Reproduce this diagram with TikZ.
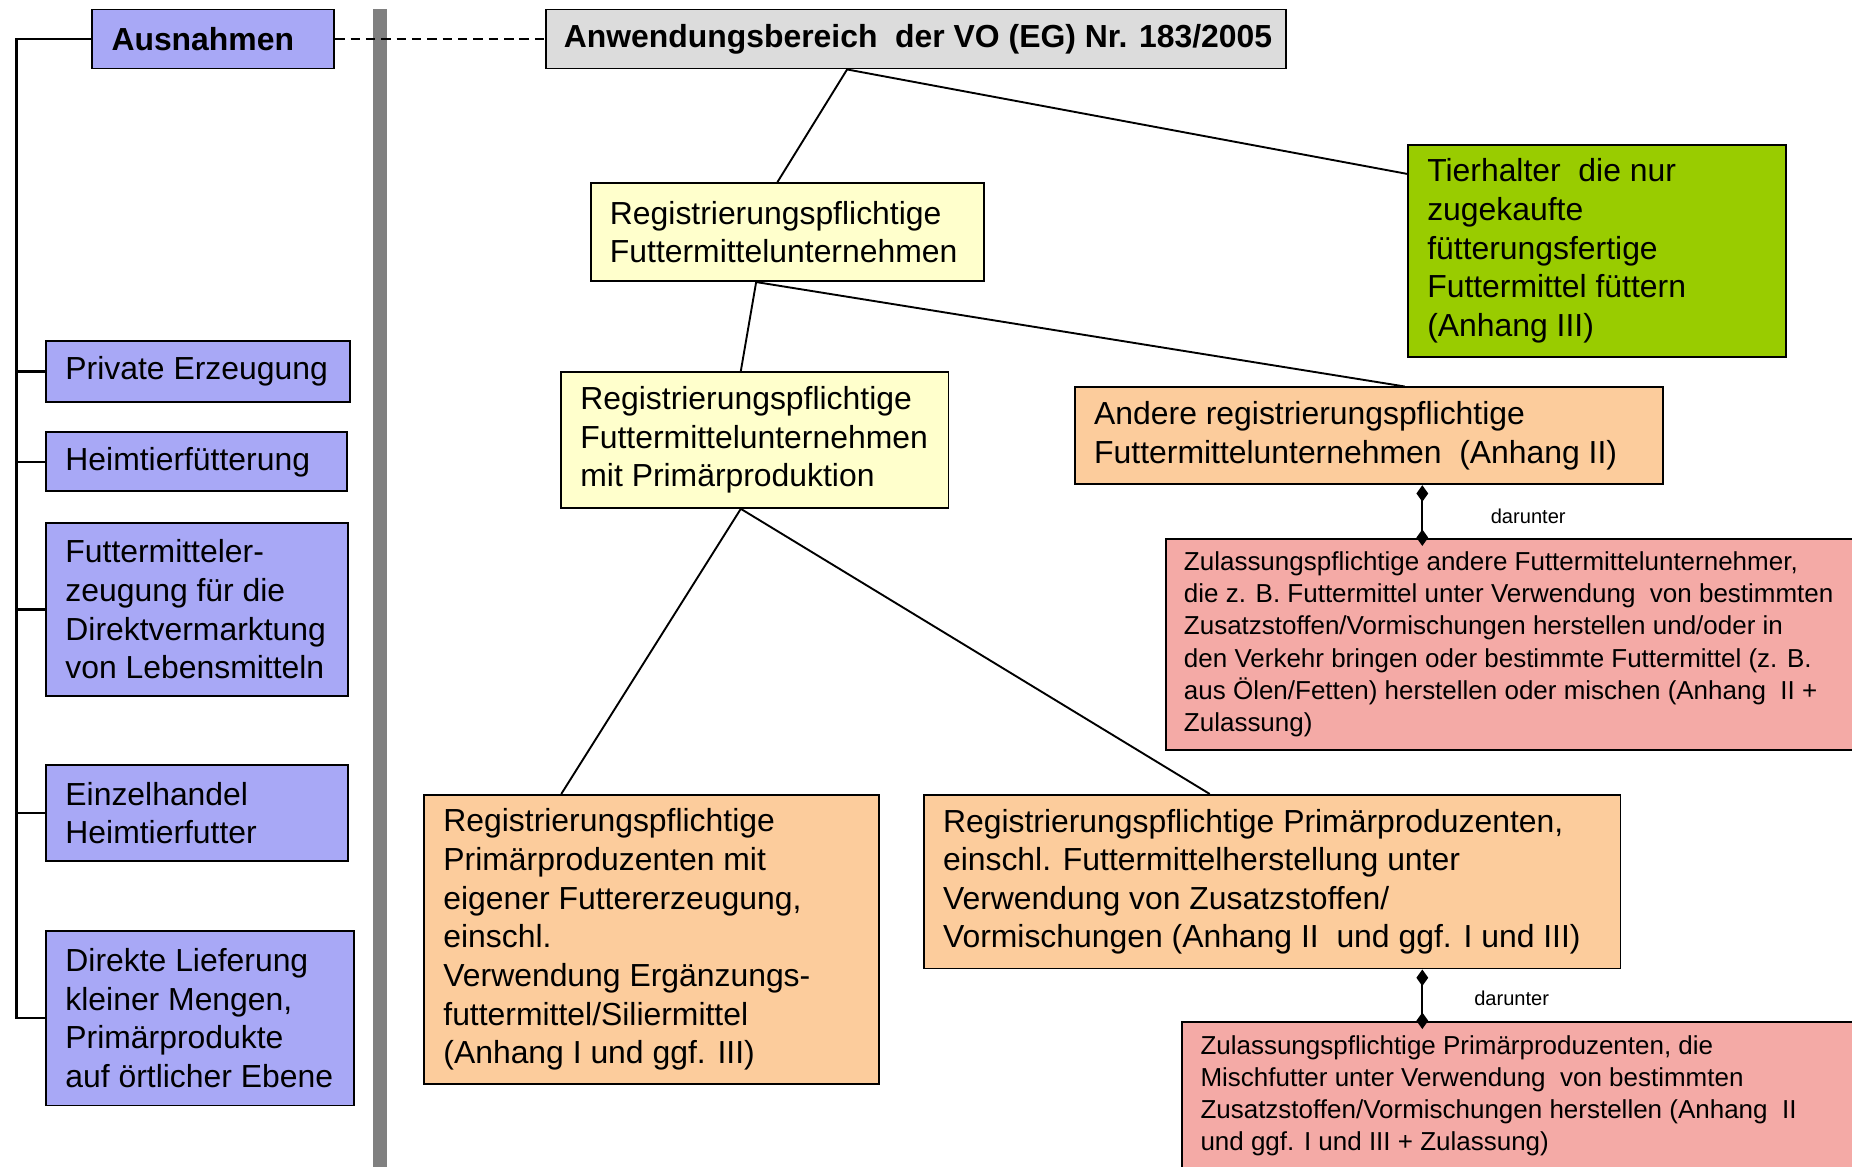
\documentclass[tikz,border=0pt]{standalone}
\usepackage{fontspec}
\setmainfont{Liberation Sans}
\usetikzlibrary{arrows.meta,fit,calc}
\definecolor{lav}{HTML}{A8A8F6}
\definecolor{ttl}{HTML}{DCDCDC}
\definecolor{yel}{HTML}{FFFFCC}
\definecolor{grn}{HTML}{99CC00}
\definecolor{org}{HTML}{FCCC9C}
\definecolor{pnk}{HTML}{F4AAA6}
\definecolor{bar}{HTML}{808080}
\begin{document}
\begin{tikzpicture}[x=1pt,y=-1pt,
  box/.style={draw=black,line width=1.6pt,inner sep=0pt},
  txt/.style={anchor=west,align=left,inner sep=0pt,font=\fontsize{27}{32.7}\selectfont},
  btxt/.style={anchor=west,align=left,inner sep=0pt,font=\fontsize{27}{32.7}\selectfont\bfseries},
  stxt/.style={anchor=west,align=left,inner sep=0pt,font=\fontsize{22}{27.2}\selectfont},
  lbl/.style={anchor=west,inner sep=0pt,font=\fontsize{17}{20}\selectfont},
  conn/.style={line width=1.6pt,draw=black},
  dconn/.style={line width=1.6pt,draw=black,{Diamond[length=14pt,width=10pt]}-{Diamond[length=14pt,width=10pt]},shorten >=-7pt},
]
\useasboundingbox (0,0) rectangle (1568,988);
\clip (0,0) rectangle (1568,988);

% gray separator bar
\fill[bar] (316,8) rectangle (328,995);

% left column
\node[box,fill=lav,fit={(78,8)(283,58)}] (aus) {};
\node[btxt] (aus-t) at ([xshift=17pt]aus.west) {Ausnahmen};
\node[box,fill=lav,fit={(39,289)(296,340)}] (pe) {};
\node[txt] (pe-t) at ([xshift=17pt]pe.west) {Private Erzeugung};
\node[box,fill=lav,fit={(39,366)(294,416)}] (ht) {};
\node[txt] (ht-t) at ([xshift=17pt]ht.west) {Heimtierfütterung};
\node[box,fill=lav,fit={(39,443)(295,589)}] (fe) {};
\node[txt] (fe-t) at ([xshift=17pt]fe.west) {Futtermitteler-\\zeugung für die\\Direktvermarktung\\von Lebensmitteln};
\node[box,fill=lav,fit={(39,648)(295,729)}] (eh) {};
\node[txt] (eh-t) at ([xshift=17pt]eh.west) {Einzelhandel\\Heimtierfutter};
\node[box,fill=lav,fit={(39,788)(300,936)}] (dl) {};
\node[txt] (dl-t) at ([xshift=17pt]dl.west) {Direkte Lieferung\\kleiner Mengen,\\Primärprodukte\\auf örtlicher Ebene};

% bracket
\coordinate (br) at (14,34);
\draw[line width=1.8pt] (aus.west) -- (aus.west -| br) -- (dl.west -| br) -- (dl.west);
\foreach \n in {pe,ht,fe,eh} \draw[line width=1.8pt] (\n.west) -- (\n.west -| br);

% right part
\node[box,fill=ttl,fit={(462,8)(1089,58)}] (title) {};
\node[btxt] (title-t) at ([xshift=16pt]title.west) {Anwendungsbereich~ der VO (EG) Nr. 183/2005};

\node[box,fill=yel,fit={(500,155)(833,238)}] (y1) {};
\node[txt] (y1-t) at ([xshift=17pt]y1.west) {Registrierungspflichtige\\Futtermittelunternehmen};

\node[box,fill=grn,fit={(1192,123)(1512,302)}] (green) {};
\node[txt] (green-t) at ([xshift=17pt]green.west) {Tierhalter~ die nur\\zugekaufte\\fütterungsfertige\\Futtermittel füttern\\(Anhang III)};

\node[box,fill=yel,fit={(475,315)(803,430)}] (y2) {};
\node[txt] (y2-t) at ([xshift=17pt]y2.west) {Registrierungspflichtige\\Futtermittelunternehmen\\mit Primärproduktion};

\node[box,fill=org,fit={(910,328)(1408,410)}] (andere) {};
\node[txt] (andere-t) at ([xshift=17pt]andere.west) {Andere registrierungspflichtige\\Futtermittelunternehmen~ (Anhang II)};

\node[box,fill=pnk,fit={(987,456)(1580,635)}] (red1) {};
\node[stxt] (red1-t) at ([xshift=16pt]red1.west) {Zulassungspflichtige andere Futtermittelunternehmer,\\die z. B. Futtermittel unter Verwendung~ von bestimmten\\Zusatzstoffen/Vormischungen herstellen und/oder in\\den Verkehr bringen oder bestimmte Futtermittel (z. B.\\aus Ölen/Fetten) herstellen oder mischen (Anhang~ II +\\Zulassung)};

\node[box,fill=org,fit={(359,673)(744,918)}] (obl) {};
\node[txt] (obl-t) at ([xshift=17pt]obl.west) {Registrierungspflichtige\\Primärproduzenten mit\\eigener Futtererzeugung,\\einschl.\\Verwendung Ergänzungs-\\futtermittel/Siliermittel\\(Anhang I und ggf. III)};

\node[box,fill=org,fit={(782,673)(1372,820)}] (obr) {};
\node[txt] (obr-t) at ([xshift=17pt]obr.west) {Registrierungspflichtige Primärproduzenten,\\einschl. Futtermittelherstellung unter\\Verwendung von Zusatzstoffen/\\Vormischungen (Anhang II~ und ggf. I und III)};

\node[box,fill=pnk,fit={(1001,865)(1580,992)}] (red2) {};
\node[stxt] (red2-t) at ([xshift=16pt,yshift=1pt]red2.west) {Zulassungspflichtige Primärproduzenten, die\\Mischfutter unter Verwendung~ von bestimmten\\Zusatzstoffen/Vormischungen herstellen (Anhang~ II\\und ggf. I und III + Zulassung)};

% connectors
\draw[conn,dashed,dash pattern=on 8pt off 5pt] (aus.east) -- (title.west);
\draw[conn] ([xshift=256pt]title.south west) -- ([xshift=159pt]y1.north west);
\draw[conn] ([xshift=256pt]title.south west) -- ([yshift=-25pt]green.north west);
\draw[conn] ([xshift=141pt]y1.south west) -- ([xshift=153pt]y2.north west);
\draw[conn] ([xshift=141pt]y1.south west) -- ([xshift=280pt]andere.north west);
\draw[conn] ([xshift=153pt]y2.south west) -- ([xshift=117pt]obl.north west);
\draw[conn] ([xshift=153pt]y2.south west) -- ([xshift=243pt]obr.north west);
\draw[dconn] ([xshift=295pt]andere.south west) -- ([xshift=218pt]red1.north west);
\draw[dconn] ([xshift=423pt]obr.south west) -- ([xshift=204pt]red2.north west);

\node[lbl] (d1) at (1262,437) {darunter};
\node[lbl] (d2) at (1248,845) {darunter};
\end{tikzpicture}
\end{document}
